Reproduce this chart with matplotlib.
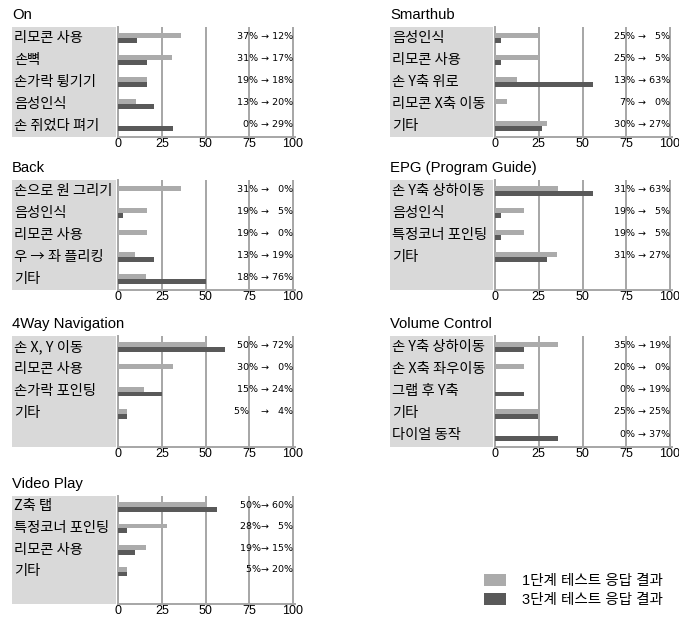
import numpy as np
import matplotlib.pyplot as plt
from matplotlib.patches import Patch

plt.rcParams['font.family'] = ['Liberation Sans', 'Noto Sans CJK KR', 'DejaVu Sans']

LIGHT = '#ABABAB'
DARK = '#595959'
BOXGRAY = '#D9D9D9'
GRIDGRAY = '#A6A6A6'
W, H = 679, 617

## DATA (bar lengths, labels as printed next to them)

onCats = ['리모콘 사용', '손뼉', '손가락 튕기기', '음성인식', '손 쥐었다 펴기']
onStep1 = [36, 31, 16.5, 10, 0]
onStep3 = [11, 16.5, 16.5, 20.5, 31.5]
onText = ['37% → 12%', '31% → 17%', '19% → 18%', '13% → 20%', '0% → 29%']

smartCats = ['음성인식', '리모콘 사용', '손 Y축 위로', '리모콘 X축 이동', '기타']
smartStep1 = [25, 25, 12.6, 7, 29.5]
smartStep3 = [3.5, 3.5, 56, 0, 27]
smartText = ['25% →   5%', '25% →   5%', '13% → 63%', '7% →   0%', '30% → 27%']

backCats = ['손으로 원 그리기', '음성인식', '리모콘 사용', '우 → 좌 플리킹', '기타']
backStep1 = [36, 16.4, 16.4, 9.7, 15.8]
backStep3 = [0, 3, 0, 20.4, 50]
backText = ['31% →   0%', '19% →   5%', '19% →   0%', '13% → 19%', '18% → 76%']

epgCats = ['손 Y축 상하이동', '음성인식', '특정코너 포인팅', '기타']
epgStep1 = [36, 16.4, 16.4, 35.6]
epgStep3 = [56, 3.5, 3.5, 29.5]
epgText = ['31% → 63%', '19% →   5%', '19% →   5%', '31% → 27%']

navCats = ['손 X, Y 이동', '리모콘 사용', '손가락 포인팅', '기타']
navStep1 = [50, 31.4, 15, 5]
navStep3 = [61, 0, 25, 5]
navText = ['50% → 72%', '30% →   0%', '15% → 24%', '5%    →   4%']

volCats = ['손 Y축 상하이동', '손 X축 좌우이동', '그랩 후 Y축', '기타', '다이얼 동작']
volStep1 = [36, 16.4, 0, 24.4, 0]
volStep3 = [16.4, 0, 16.4, 24.4, 36]
volText = ['35% → 19%', '20% →   0%', '0% → 19%', '25% → 25%', '0% → 37%']

videoCats = ['Z축 탭', '특정코너 포인팅', '리모콘 사용', '기타']
videoStep1 = [49.7, 28.2, 15.8, 5]
videoStep3 = [56.6, 5, 9.7, 5]
videoText = ['50%→ 60%', '28%→   5%', '19%→ 15%', '5%→ 20%']

legendLabels = ['1단계 테스트 응답 결과', '3단계 테스트 응답 결과']


def px(x0, y0, x1, y1):
  '''pixel box (top-left origin) -> figure fraction rect'''
  return [x0/W, 1 - y1/H, (x1 - x0)/W, (y1 - y0)/H]


def drawPanel(fig, boxLeft, axLeft, top, bottom, title, cats, s1, s3, texts):
  nSlots = 5
  axRight = axLeft + 175*1.01
  ylim = (nSlots - 0.5, -0.5)

  # gray label box
  lab = fig.add_axes(px(boxLeft, top, axLeft - 2, bottom))
  lab.set_facecolor(BOXGRAY)
  lab.set(xticks=[], yticks=[], xlim=(0, 1), ylim=ylim)
  for s in lab.spines.values(): s.set_visible(False)
  for i, c in enumerate(cats):
    lab.text(2/(axLeft - 2 - boxLeft), i - 0.02, c, ha='left', va='center', fontsize=10.3,
             family=['Noto Sans CJK KR', 'DejaVu Sans'])

  ax = fig.add_axes(px(axLeft, top, axRight, bottom))
  y = np.arange(len(cats))
  ax.barh(y - 0.11, s1, height=0.22, color=LIGHT, zorder=3)
  ax.barh(y + 0.11, s3, height=0.22, color=DARK, zorder=3)
  for i, t in enumerate(texts):
    ax.text(100, i - 0.08, t, ha='right', va='center', fontsize=6.8,
            family=['DejaVu Sans'], zorder=4)
  ax.set(xlim=(0, 101), ylim=ylim, yticks=[], xticks=[0, 25, 50, 75, 100])
  ax.xaxis.grid(True, color=GRIDGRAY, lw=1.4)
  ax.set_axisbelow(True)
  ax.tick_params(axis='x', length=0, labelsize=9, pad=1)
  for k in ['top', 'right']: ax.spines[k].set_visible(False)
  for k in ['left', 'bottom']:
    ax.spines[k].set_color(GRIDGRAY)
    ax.spines[k].set_linewidth(1.4)

  fig.text(boxLeft/W, 1 - (top - 12)/H, title, ha='left', va='center', fontsize=10.7)
  return ax


fig = plt.figure(figsize=(W/100, H/100), dpi=100, facecolor='w')

drawPanel(fig, 12, 118, 27, 137, 'On', onCats, onStep1, onStep3, onText)
drawPanel(fig, 390, 495, 27, 137, 'Smarthub', smartCats, smartStep1, smartStep3, smartText)
drawPanel(fig, 12, 118, 180, 290, 'Back', backCats, backStep1, backStep3, backText)
drawPanel(fig, 390, 495, 180, 290, 'EPG (Program Guide)', epgCats, epgStep1, epgStep3, epgText)
drawPanel(fig, 12, 118, 336, 447, '4Way Navigation', navCats, navStep1, navStep3, navText)
drawPanel(fig, 390, 495, 336, 447, 'Volume Control', volCats, volStep1, volStep3, volText)
drawPanel(fig, 12, 118, 496, 604, 'Video Play', videoCats, videoStep1, videoStep3, videoText)

handles = [Patch(facecolor=LIGHT), Patch(facecolor=DARK)]
fig.legend(handles, legendLabels, loc='upper left', bbox_to_anchor=(471/W, 1 - 561/H),
           frameon=False, fontsize=10.5, handlelength=1.5, handleheight=0.9,
           labelspacing=0.3, handletextpad=1.1)

fig.savefig('out.png', dpi=100)
